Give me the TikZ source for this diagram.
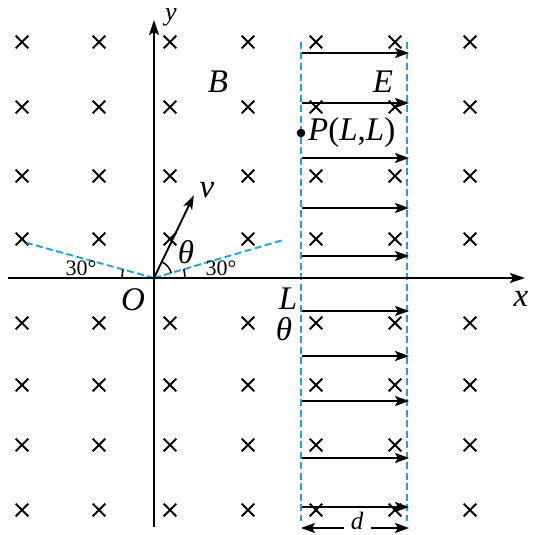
\documentclass[tikz,border=0pt]{standalone}
\usepackage{fontspec}
\setmainfont{Liberation Serif}
\usetikzlibrary{arrows.meta,shapes.misc,calc}
\definecolor{fieldblue}{RGB}{30,160,225}
\begin{document}
\begin{tikzpicture}[x=1pt,y=1pt,
  crossmark/.style={cross out,draw=black,line width=2.1pt,minimum size=10.5pt,inner sep=0pt},
  axis/.style={line width=2.1pt,-{Stealth[length=15pt,width=10pt,inset=3pt]}},
  efield/.style={line width=2pt,-{Stealth[length=14pt,width=10pt,inset=3pt]}},
  bdash/.style={draw=fieldblue,line width=1.9pt,dash pattern=on 7pt off 3.5pt},
  lab/.style={font=\fontsize{33}{35}\selectfont\itshape,inner sep=0pt},
  smalllab/.style={font=\fontsize{22}{24}\selectfont,inner sep=0pt}]
\useasboundingbox (0,0) rectangle (534,-535);
% crosses
\foreach \cx in {22,99,170,248,316,395,470}{
  \foreach \cy in {42,107,176,239,323,385,445,510}{
    \node[crossmark] (c-\cx-\cy) at (\cx,-\cy) {};
  }
}
% coordinates
\coordinate (O) at (154,-278);
\coordinate (xs) at (8,-278);
\coordinate (xe) at (525,-278);
\coordinate (ys) at (154,-527);
\coordinate (ye) at (154,-20);
\coordinate (bl1) at (301,-42);
\coordinate (bl2) at (301,-521);
\coordinate (br1) at (407,-42);
\coordinate (br2) at (407,-521);
% blue dashed boundaries
\draw[bdash] (bl1) -- (bl2);
\draw[bdash] (br1) -- (br2);
% blue dashed 30 deg lines
\coordinate (dL) at ($(O)+(164.6:132)$);
\coordinate (dR) at ($(O)+(16.4:134)$);
\draw[bdash] (O) -- (dL);
\draw[bdash] (O) -- (dR);
% axes
\draw[axis] (xs) -- (xe);
\draw[axis] (ys) -- (ye);
% field arrows
\foreach \ay in {53,103,158,208,256,311,356,401,458,507}{
  \coordinate (fa-\ay) at (302,-\ay);
  \coordinate (fb-\ay) at (409,-\ay);
  \draw[efield] (fa-\ay) -- (fb-\ay);
}
% velocity
\coordinate (vend) at ($(O)+(64.3:92)$);
\draw[line width=1.9pt,-{Stealth[length=14pt,width=9.5pt,inset=3pt]}] (O) -- (vend);
% angle arcs
\draw[line width=1.5pt] ($(O)+(16.4:18)$) arc[start angle=16.4,end angle=64.3,radius=18];
\draw[line width=1.5pt] ($(O)+(164.6:32)$) arc[start angle=164.6,end angle=180,radius=32];
\draw[line width=1.5pt] ($(O)+(0:31)$) arc[start angle=0,end angle=16.4,radius=31];
% point P
\fill (301,-133) circle (4.3pt) coordinate (P);
\node[lab,anchor=west,font=\fontsize{33}{35}\selectfont] (Plab) at (308,-133) {\textit{P}(\textit{L},\textit{L})};
% labels
\node[font=\fontsize{26}{28}\selectfont\itshape,inner sep=0pt] (ylab) at (171,-17) {y};
\node[lab] (xlab) at (521,-299) {x};
\node[lab] (Blab) at (218,-82) {B};
\node[lab] (Elab) at (383,-82) {E};
\node[lab] (vlab) at (207,-190) {v};
\node[lab] (th1) at (186,-252) {θ};
\node[lab] (Olab) at (133,-300) {O};
\node[lab] (Llab) at (288,-299) {L};
\node[lab] (th2) at (284,-329) {θ};
\node[smalllab] (a30l) at (81,-268) {30°};
\node[smalllab] (a30r) at (221,-268) {30°};
% d dimension
\node[font=\fontsize{25}{27}\selectfont\itshape,inner sep=0pt] (dlab) at (357,-521) {d};
\coordinate (dA) at (344,-528);
\coordinate (dB) at (371,-528);
\coordinate (dAe) at (301,-528);
\coordinate (dBe) at (409,-528);
\draw[efield] (dA) -- (dAe);
\draw[efield] (dB) -- (dBe);
\end{tikzpicture}
\end{document}
